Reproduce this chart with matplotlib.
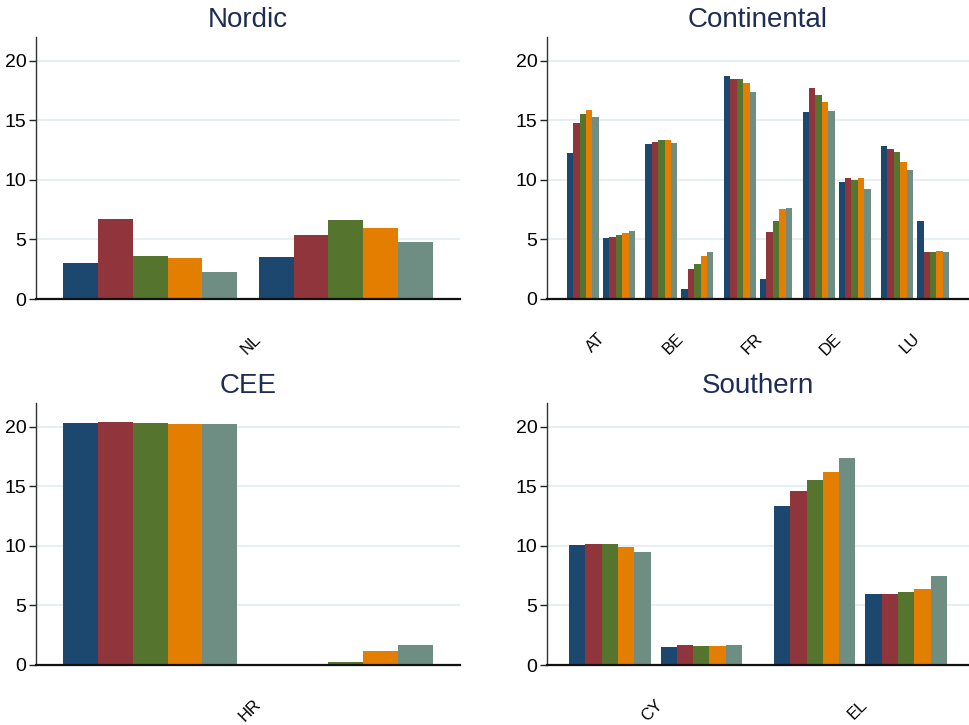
import numpy as np
import matplotlib
matplotlib.use("Agg")
import matplotlib.pyplot as plt

plt.rcParams["font.family"] = ["Liberation Sans", "DejaVu Sans"]

# Five series per group (Stata s2color order)
series_colors = ["#1c476f", "#90353b", "#55752f", "#e37e00", "#6e8e84"]

# Each country has two groups of five bars (first group, second group)
nordic_countries = ["NL"]
nordic_g1 = [[3.0, 6.7, 3.65, 3.45, 2.3]]
nordic_g2 = [[3.55, 5.4, 6.6, 6.0, 4.75]]

continental_countries = ["AT", "BE", "FR", "DE", "LU"]
continental_g1 = [
    [12.2, 14.75, 15.55, 15.9, 15.3],
    [13.0, 13.2, 13.3, 13.3, 13.1],
    [18.75, 18.5, 18.5, 18.15, 17.35],
    [15.65, 17.75, 17.15, 16.5, 15.75],
    [12.8, 12.55, 12.35, 11.5, 10.85],
]
continental_g2 = [
    [5.1, 5.2, 5.35, 5.5, 5.7],
    [0.8, 2.5, 2.9, 3.6, 3.9],
    [1.6, 5.6, 6.55, 7.5, 7.6],
    [9.8, 10.15, 9.95, 10.15, 9.25],
    [6.55, 3.9, 3.9, 4.0, 3.9],
]

cee_countries = ["HR"]
cee_g1 = [[20.3, 20.4, 20.3, 20.25, 20.25]]
cee_g2 = [[0.0, 0.0, 0.2, 1.1, 1.6]]

southern_countries = ["CY", "EL"]
southern_g1 = [
    [10.1, 10.15, 10.15, 9.95, 9.45],
    [13.35, 14.6, 15.55, 16.2, 17.4],
]
southern_g2 = [
    [1.5, 1.7, 1.6, 1.6, 1.7],
    [6.0, 6.0, 6.1, 6.4, 7.45],
]

y_ticks = [0, 5, 10, 15, 20]

title_color = "#1f2d55"
grid_color = "#e8eff2"

W, H = 969, 725
fig = plt.figure(figsize=(W / 100, H / 100), dpi=100)


def panel(rect_px, title, countries, g1, g2, gap_out, pad):
    x0, x1, ytop, ybot = rect_px
    ax = fig.add_axes([x0 / W, 1 - ybot / H, (x1 - x0) / W, (ybot - ytop) / H])
    gap_in = 0.62
    nbar = len(series_colors)
    pos = pad
    centers = []
    for c in range(len(countries)):
        start = pos
        for grp in (g1[c], g2[c]):
            xs = pos + np.arange(nbar) + 0.5
            for k in range(nbar):
                ax.bar(xs[k], grp[k], width=1.0, color=series_colors[k],
                       linewidth=0, zorder=3)
            pos += nbar + gap_in
        pos -= gap_in
        centers.append((start + pos) / 2)
        pos += gap_out
    pos -= gap_out
    ax.set_xlim(0, pos + pad)
    ax.set_ylim(0, 22)

    ax.set_yticks(y_ticks)
    ax.set_yticklabels([str(v) for v in y_ticks], fontsize=14)
    for v in y_ticks[1:]:
        ax.axhline(v, color=grid_color, lw=1.5, zorder=1)
    ax.tick_params(axis="y", length=5, width=1.0, color="#222222", pad=2)

    ax.set_xticks([c + 0.3 for c in centers])
    ax.set_xticklabels(countries, fontsize=12, rotation=45, ha="right",
                       va="center", rotation_mode="anchor")
    ax.tick_params(axis="x", length=0, pad=27)

    for s in ("top", "right"):
        ax.spines[s].set_visible(False)
    ax.spines["left"].set_color("#333333")
    ax.spines["left"].set_linewidth(1.0)
    ax.spines["bottom"].set_color("#111111")
    ax.spines["bottom"].set_linewidth(1.6)
    ax.spines["bottom"].set_zorder(4)

    ax.set_title(title, fontsize=20, color=title_color, pad=7)
    return ax


panel((36, 460, 37, 299), "Nordic", nordic_countries, nordic_g1, nordic_g2, 1.6, 0.78)
panel((547, 969, 37, 298.5), "Continental", continental_countries,
      continental_g1, continental_g2, 1.64, 3.1)
panel((36, 460, 403, 664.5), "CEE", cee_countries, cee_g1, cee_g2, 1.6, 0.78)
panel((547, 969, 403, 665), "Southern", southern_countries,
      southern_g1, southern_g2, 1.96, 1.36)

fig.savefig("out.png", dpi=100)
